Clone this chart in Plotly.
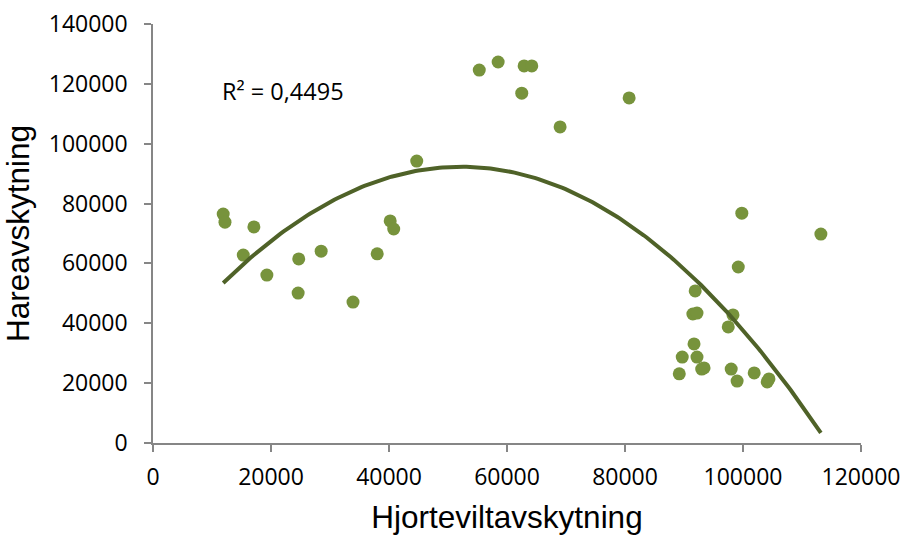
import numpy as np
import plotly.graph_objects as go

# Data
hjortevilt = [11900, 12200, 17100, 15300, 19300, 24700, 28500, 24600, 33900, 38000,
              40200, 40800, 44700, 55300, 58500, 62500, 62900, 64200, 69000, 80700,
              99800, 113200, 99200, 91900, 91500, 92200, 98300, 97500, 91700, 89700,
              92200, 89200, 93000, 93400, 98000, 99000, 101900, 104100, 104400]
hare = [76500, 73800, 72200, 62800, 56100, 61500, 64100, 50100, 47100, 63200,
        74200, 71500, 94200, 124600, 127300, 116900, 126000, 126000, 105600, 115300,
        76800, 69800, 58800, 50800, 43100, 43400, 42800, 38800, 33100, 28700,
        28700, 23100, 24700, 25100, 24700, 20700, 23400, 20400, 21400]
x_ticks = [0, 20000, 40000, 60000, 80000, 100000, 120000]
y_ticks = [0, 20000, 40000, 60000, 80000, 100000, 120000, 140000]
r2_label = "R² = 0,4495"
x_title = "Hjorteviltavskytning"
y_title = "Hareavskytning"

# Polynomial (order 2) trendline fitted on the data, spanning the data range
coef = np.polyfit(hjortevilt, hare, 2)
tx = np.linspace(min(hjortevilt), max(hjortevilt), 200)
ty = np.polyval(coef, tx)

fig = go.Figure()
fig.add_trace(go.Scatter(x=hjortevilt, y=hare, mode="markers",
                         marker=dict(size=13, color="#77933C", line=dict(width=0)),
                         showlegend=False, cliponaxis=False))
fig.add_trace(go.Scatter(x=tx, y=ty, mode="lines",
                         line=dict(color="#4F6228", width=4),
                         showlegend=False, cliponaxis=False))

axis_common = dict(showgrid=False, zeroline=False, showline=True, automargin=False,
                   linecolor="#868686", linewidth=1.5,
                   ticks="outside", ticklen=7, tickwidth=1.5, tickcolor="#868686",
                   tickfont=dict(family="Open Sans", size=23, color="#000000"))

fig.update_xaxes(range=[0, 120000], tickvals=x_ticks,
                 ticktext=[str(v) for v in x_ticks], ticklabelstandoff=6,
                 title=dict(text=x_title, standoff=16,
                            font=dict(family="Liberation Sans", size=31.5, color="#000000")),
                 **axis_common)
fig.update_yaxes(range=[0, 140000], tickvals=y_ticks,
                 ticktext=[str(v) for v in y_ticks], ticklabelstandoff=12,
                 title=dict(text=y_title, standoff=10,
                            font=dict(family="Liberation Sans", size=31.5, color="#000000")),
                 **axis_common)

fig.add_annotation(x=0.095, y=0.84, xref="paper", yref="paper",
                   text=r2_label, showarrow=False, xanchor="left", yanchor="middle",
                   font=dict(family="Open Sans", size=23.5, color="#000000"))

fig.update_layout(width=904, height=535,
                  margin=dict(l=153, r=43, t=24, b=92),
                  paper_bgcolor="white", plot_bgcolor="white")

fig.write_html("out.html", config={"displayModeBar": False},
               post_script="document.body.style.margin='0';document.body.style.overflow='hidden';")
